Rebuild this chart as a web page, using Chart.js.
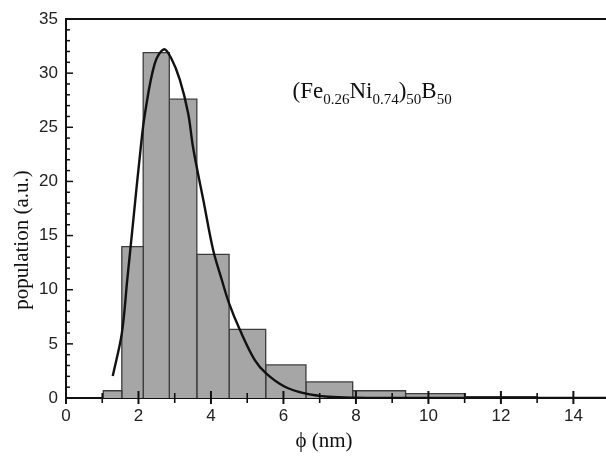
<!DOCTYPE html>
<html><head><meta charset="utf-8">
<script src="https://cdn.jsdelivr.net/npm/chart.js@4.4.0/dist/chart.umd.min.js"></script>
<style>html,body{margin:0;padding:0;background:#fff}#wrap{width:606px;height:458px;position:relative}</style>
</head><body><div id="wrap"><canvas id="c"></canvas></div>
<script>
// Histogram bins (edges in nm) and heights
const binEdges   = [1.03, 1.54, 2.13, 2.85, 3.61, 4.50, 5.51, 6.62, 7.91, 9.37, 11.02, 13.0];
const binHeights = [0.67, 13.97, 31.9, 27.6, 13.27, 6.34, 3.05, 1.48, 0.67, 0.40, 0.12];
// Fitted curve
const fitX = [1.29, 1.54, 1.69, 1.85, 2.06, 2.18, 2.45, 2.70, 2.90, 3.14, 3.37, 3.51, 3.80, 4.06, 4.30, 4.50, 4.80, 5.21, 5.52, 6.04, 6.59, 7.24, 7.97, 9.0, 11.0, 14.9];
const fitY = [2.03, 5.97, 10.9, 16.2, 23.06, 26.3, 30.9, 32.2, 31.4, 29.4, 26.3, 23.06, 18.1, 13.67, 10.9, 8.74, 6.28, 3.5, 2.28, 1.04, 0.43, 0.12, 0.02, 0, 0, 0];
const xTickLabels = [0, 2, 4, 6, 8, 10, 12, 14];
const yTickLabels = [0, 5, 10, 15, 20, 25, 30, 35];
const xMinorTicks = [1, 3, 5, 7, 9, 11, 13];
const yMinorTicks = Array.from({length: 36}, (_, i) => i).filter(v => v % 5 !== 0);
const yTitle = 'population (a.u.)';
const xTitle = 'ϕ (nm)';
const labelParts = [['(Fe', 0], ['0.26', 1], ['Ni', 0], ['0.74', 1], [')', 0], ['50', 1], ['B', 0], ['50', 1]];

const barDatasets = binHeights.map((h, i) => ({
  data: [{x: binEdges[i], y: 0}, {x: binEdges[i], y: h}, {x: binEdges[i + 1], y: h}, {x: binEdges[i + 1], y: 0}],
  borderColor: '#3c3c3c', borderWidth: 1.3, backgroundColor: '#a6a6a6',
  fill: 'origin', pointRadius: 0, tension: 0, order: 2
}));
const curveDataset = {
  data: fitX.map((x, i) => ({x, y: fitY[i]})),
  borderColor: '#111', borderWidth: 2.4, fill: false, pointRadius: 0,
  tension: 0.35, order: 0
};

const decor = {
  id: 'decor',
  afterDatasetsDraw(chart) {
    const {ctx, chartArea: a, scales: {x, y}} = chart;
    ctx.save();
    ctx.strokeStyle = '#111';
    ctx.lineWidth = 2;
    ctx.beginPath(); ctx.moveTo(a.left, a.top); ctx.lineTo(a.right, a.top); ctx.stroke();
    ctx.lineWidth = 1.5;
    yTickLabels.forEach(v => { const p = y.getPixelForValue(v); ctx.beginPath(); ctx.moveTo(a.left, p); ctx.lineTo(a.left + 7, p); ctx.stroke(); });
    yMinorTicks.forEach(v => { const p = y.getPixelForValue(v); ctx.beginPath(); ctx.moveTo(a.left, p); ctx.lineTo(a.left + 4, p); ctx.stroke(); });
    ctx.lineWidth = 2;
    xTickLabels.forEach(v => { const p = x.getPixelForValue(v); ctx.beginPath(); ctx.moveTo(p, a.bottom - 7); ctx.lineTo(p, a.bottom + 6); ctx.stroke(); });
    ctx.lineWidth = 1.6;
    xMinorTicks.forEach(v => { const p = x.getPixelForValue(v); ctx.beginPath(); ctx.moveTo(p, a.bottom - 5); ctx.lineTo(p, a.bottom + 5); ctx.stroke(); });
    ctx.fillStyle = '#111';
    ctx.textAlign = 'center'; ctx.textBaseline = 'middle';
    ctx.font = '21px "Liberation Serif", "DejaVu Serif", serif';
    ctx.save(); ctx.translate(22, 240); ctx.rotate(-Math.PI / 2); ctx.fillText(yTitle, 0, 0); ctx.restore();
    ctx.font = '21px "Liberation Serif", "DejaVu Serif", serif';
    ctx.fillText(xTitle, 324, 441);
    ctx.textAlign = 'left'; ctx.textBaseline = 'alphabetic';
    let px = x.getPixelForValue(6.25), py = y.getPixelForValue(27.7);
    labelParts.forEach(([t, sub]) => {
      ctx.font = sub ? '15px "Liberation Serif", serif' : '23px "Liberation Serif", serif';
      ctx.fillText(t, px, py + (sub ? 6 : 0));
      px += ctx.measureText(t).width;
    });
    ctx.restore();
  }
};

new Chart(document.getElementById('c'), {
  type: 'line',
  data: {datasets: [...barDatasets, curveDataset]},
  options: {
    responsive: true, maintainAspectRatio: false, animation: false,
    layout: {padding: {top: 19, right: 0, left: 0, bottom: 0}},
    plugins: {legend: {display: false}, tooltip: {enabled: false}},
    scales: {
      x: {
        type: 'linear', min: 0, max: 14.9,
        afterFit: s => { s.height = 60; },
        afterBuildTicks: s => { s.ticks = xTickLabels.map(v => ({value: v})); },
        grid: {display: false, drawTicks: false},
        border: {display: true, color: '#111', width: 2},
        ticks: {padding: 8, color: '#222', font: {family: '"Liberation Sans", Arial, sans-serif', size: 17}, maxRotation: 0, autoSkip: false}
      },
      y: {
        type: 'linear', min: 0, max: 35,
        afterFit: s => { s.width = 66; },
        afterBuildTicks: s => { s.ticks = yTickLabels.map(v => ({value: v})); },
        grid: {display: false, drawTicks: false},
        border: {display: true, color: '#111', width: 2},
        ticks: {padding: 8, color: '#222', font: {family: '"Liberation Sans", Arial, sans-serif', size: 17}}
      }
    }
  },
  plugins: [decor]
});
</script></body></html>
